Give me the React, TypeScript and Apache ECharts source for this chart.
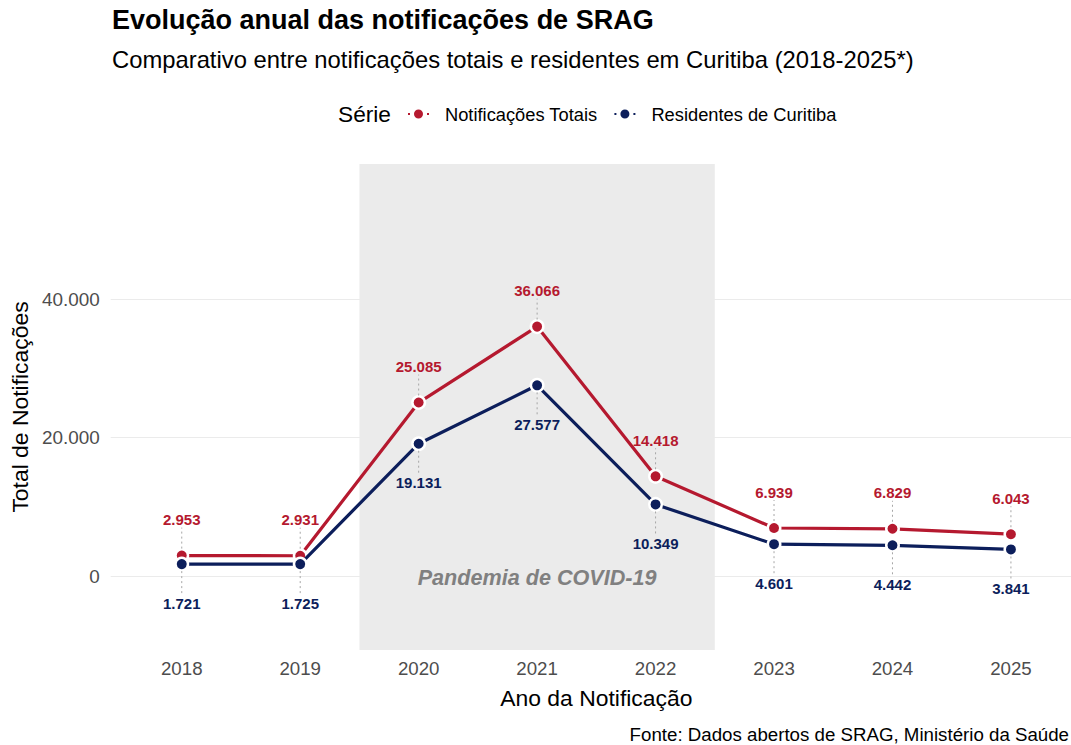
import React, { useEffect, useRef } from "react";
import * as echarts from "echarts";

const years = [2018, 2019, 2020, 2021, 2022, 2023, 2024, 2025];
const totais = [2953, 2931, 25085, 36066, 14418, 6939, 6829, 6043];
const residentes = [1721, 1725, 19131, 27577, 10349, 4601, 4442, 3841];
const yTicks = [0, 20000, 40000];
const pandemicStart = 2019.5;
const pandemicEnd = 2022.5;
const pandemicYear = 2021;

const RED = "#B5192F";
const NAVY = "#0C1E5B";
const FONT = "Liberation Sans";

const fmt = (n: number) => String(n).replace(/\B(?=(\d{3})+(?!\d))/g, ".");

const legendIcon =
  "path://M0,3.5h4v4h-4z M6,5.5a5.5,5.5 0 1,0 11,0a5.5,5.5 0 1,0 -11,0z M19,3.5h4v4h-4z";

function labelSeries(name: string, vals: number[], color: string, dir: number) {
  return {
    type: "custom",
    name: name + "_labels",
    z: 5,
    silent: true,
    data: years.map((y, i) => [y, vals[i]]),
    encode: { x: 0, y: 1 },
    renderItem: (_params: any, api: any) => {
      const v = api.value(1);
      const p = api.coord([api.value(0), v]);
      const off = dir < 0 ? -36 : 39;
      const segA = p[1] + dir * 7;
      const segB = p[1] + off - dir * 8;
      return {
        type: "group",
        children: [
          {
            type: "line",
            shape: { x1: p[0], y1: segA, x2: p[0], y2: segB },
            style: { stroke: "#A6A6A6", lineWidth: 1, lineDash: [2, 3] },
            z2: 1,
          },
          {
            type: "text",
            x: p[0],
            y: p[1] + off,
            style: {
              text: fmt(v),
              fill: color,
              font: `bold 15px "${FONT}"`,
              align: "center",
              verticalAlign: "middle",
            },
            z2: 2,
          },
        ],
      };
    },
  };
}

export default function App() {
  const ref = useRef<HTMLDivElement>(null);
  useEffect(() => {
    if (!ref.current) return;
    const chart = echarts.init(ref.current, null, { renderer: "svg" });
    chart.setOption({
      animation: false,
      backgroundColor: "#ffffff",
      textStyle: { fontFamily: FONT },
      title: [
        {
          text: "Evolução anual das notificações de SRAG",
          left: 112,
          top: 6,
          padding: 0,
          textStyle: { fontSize: 27, fontWeight: "bold", color: "#000", fontFamily: FONT },
        },
        {
          text: "Comparativo entre notificações totais e residentes em Curitiba (2018-2025*)",
          left: 112,
          top: 47,
          padding: 0,
          textStyle: { fontSize: 23.8, fontWeight: "normal", color: "#000", fontFamily: FONT },
        },
        {
          text: "Série",
          left: 338,
          top: 102,
          padding: 0,
          textStyle: { fontSize: 22.7, fontWeight: "normal", color: "#000", fontFamily: FONT },
        },
        {
          text: "Fonte: Dados abertos de SRAG, Ministério da Saúde",
          right: 21,
          top: 725,
          padding: 0,
          textStyle: { fontSize: 18.7, fontWeight: "normal", color: "#000", fontFamily: FONT },
        },
      ],
      legend: {
        data: ["Notificações Totais", "Residentes de Curitiba"],
        left: 406,
        top: 105,
        padding: 0,
        itemWidth: 23,
        itemHeight: 11,
        itemGap: 15,
        icon: legendIcon,
        textStyle: { fontSize: 18.3, color: "#000", fontFamily: FONT, padding: [0, 0, 0, 10] },
      },
      grid: { left: 110, right: 8, top: 164, bottom: 95, containLabel: false },
      xAxis: {
        type: "value",
        min: 2017.4,
        max: 2025.6,
        name: "Ano da Notificação",
        nameLocation: "middle",
        nameGap: 36,
        nameTextStyle: { fontSize: 22.9, color: "#000", fontFamily: FONT },
        axisLine: { show: false },
        axisTick: { show: false, customValues: years },
        splitLine: { show: false },
        axisLabel: {
          customValues: years,
          formatter: (v: number) => String(v),
          fontSize: 18.7,
          color: "#4D4D4D",
          margin: 9,
          fontFamily: FONT,
        },
      },
      yAxis: {
        type: "value",
        min: -10700,
        max: 59580,
        name: "Total de Notificações",
        nameLocation: "middle",
        nameGap: 74,
        nameTextStyle: { fontSize: 22.9, color: "#000", fontFamily: FONT },
        axisLine: { show: false },
        axisTick: { show: false, customValues: yTicks },
        splitLine: { show: true, lineStyle: { color: "#EBEBEB", width: 1.1 } },
        axisLabel: {
          customValues: yTicks,
          formatter: (v: number) => fmt(v),
          fontSize: 18.9,
          color: "#4D4D4D",
          margin: 11,
          fontFamily: FONT,
        },
      },
      series: [
        {
          type: "scatter",
          name: "pandemia_area",
          z: 1,
          data: [],
          silent: true,
          markArea: {
            silent: true,
            itemStyle: { color: "#EBEBEB" },
            data: [[{ xAxis: pandemicStart }, { xAxis: pandemicEnd }]],
          },
        },
        {
          type: "custom",
          name: "pandemia_text",
          z: 2,
          silent: true,
          data: [[pandemicYear, 0]],
          encode: { x: 0, y: 1 },
          renderItem: (_params: any, api: any) => {
            const p = api.coord([api.value(0), api.value(1)]);
            return {
              type: "text",
              x: p[0],
              y: p[1] + 1,
              style: {
                text: "Pandemia de COVID-19",
                fill: "#808080",
                font: `italic bold 21.6px "${FONT}"`,
                align: "center",
                verticalAlign: "middle",
              },
            };
          },
        },
        {
          type: "line",
          name: "Notificações Totais",
          z: 3,
          data: years.map((y, i) => [y, totais[i]]),
          lineStyle: { color: RED, width: 3.2 },
          itemStyle: { color: RED, borderColor: "#fff", borderWidth: 2.5 },
          color: RED,
          symbol: "circle",
          symbolSize: 12.5,
          showAllSymbol: true,
        },
        {
          type: "line",
          name: "Residentes de Curitiba",
          z: 4,
          data: years.map((y, i) => [y, residentes[i]]),
          lineStyle: { color: NAVY, width: 3.2 },
          itemStyle: { color: NAVY, borderColor: "#fff", borderWidth: 2.5 },
          color: NAVY,
          symbol: "circle",
          symbolSize: 12.5,
          showAllSymbol: true,
        },
        labelSeries("Notificações Totais", totais, RED, -1),
        labelSeries("Residentes de Curitiba", residentes, NAVY, 1),
      ],
    });
    return () => chart.dispose();
  }, []);
  return (
    <div
      style={{
        position: "fixed",
        left: 0,
        top: 0,
        width: 1071,
        height: 745,
        overflow: "hidden",
        background: "#fff",
      }}
    >
      <div ref={ref} style={{ width: 1090, height: 745 }} />
    </div>
  );
}
